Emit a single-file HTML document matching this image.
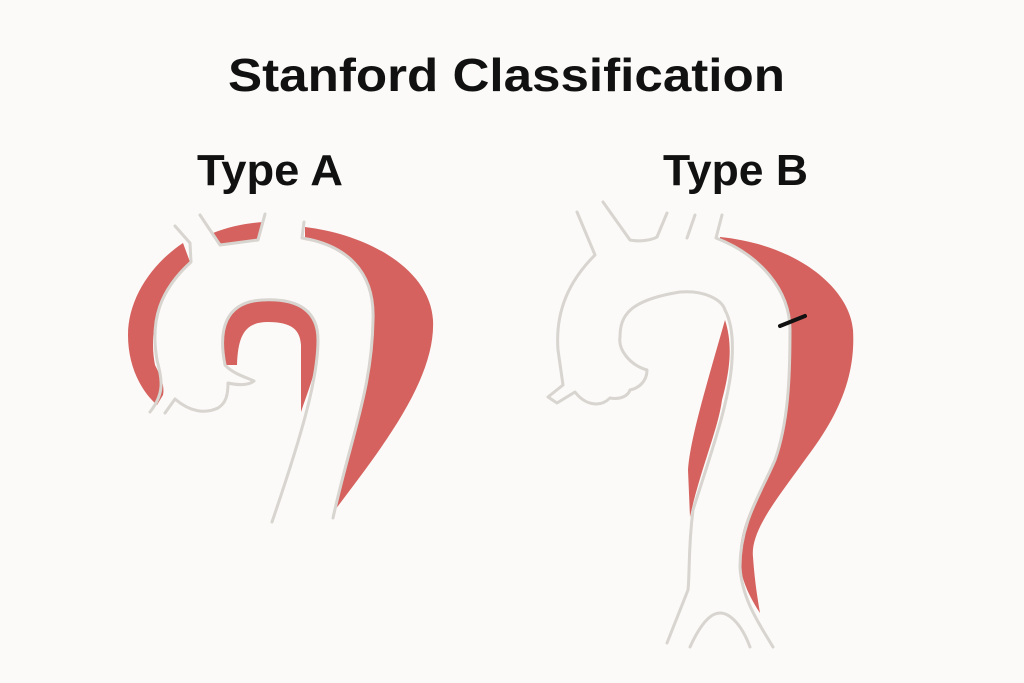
<!DOCTYPE html>
<html><head><meta charset="utf-8"><style>
html,body{margin:0;padding:0;background:#fbfaf8;}
svg{display:block;}
text{font-family:"Liberation Sans",sans-serif;font-weight:bold;fill:#111;}
</style></head><body>
<svg width="1024" height="683" viewBox="0 0 1024 683" xmlns="http://www.w3.org/2000/svg">
<rect width="1024" height="683" fill="#fbfaf8"/>
<text x="228" y="91" font-size="46" textLength="557" lengthAdjust="spacingAndGlyphs">Stanford Classification</text>
<text x="197" y="185" font-size="44" textLength="146" lengthAdjust="spacingAndGlyphs">Type A</text>
<text x="663" y="185" font-size="44" textLength="145" lengthAdjust="spacingAndGlyphs">Type B</text>

<g fill="#d5625e">
<!-- Type A -->
<path d="M183,243 C150,265 128,300 128,335 C128,365 140,390 157,405 L163,395 C165,385 160,375 155,365 C150,340 152,300 190,262 Z"/>
<path d="M213,233 C230,226 248,223 263,222 L258,240 C245,241 230,243 220,245 Z"/>
<path d="M305,227 C370,235 430,270 433,320 C436,380 380,450 335,510 C350,440 372,390 373,320 C375,270 340,245 305,240 Z"/>
<path d="M225,365 C218,330 225,302 262,300 C300,298 318,312 318,340 C318,370 308,390 301,412 L301,345 C300,330 292,322 268,322 C245,322 238,335 237,365 Z"/>
<!-- Type B -->
<path d="M720,237 C800,245 850,290 853,330 C856,380 835,420 807,457 C780,495 750,530 753,557 C755,585 758,600 760,613 C745,590 738,570 740,550 C742,520 760,490 775,460 C790,420 790,380 790,330 C790,290 760,255 720,240 Z"/>
<path d="M725,320 C705,390 690,440 688,470 L690,517 C700,470 718,430 722,400 C730,370 733,345 725,320 Z"/>
</g>

<g fill="none" stroke="#d8d4cf" stroke-width="3" stroke-linecap="round" stroke-linejoin="round">
<!-- Type A -->
<path d="M175,226 L190,243 L191,262 C160,290 150,320 157,360 C162,380 165,393 150,412"/>
<path d="M165,413 L175,399 C190,412 205,414 218,408 C226,403 228,395 228,383 C236,385 248,386 254,381 C248,378 233,374 225,365 C218,330 225,302 262,300 C300,298 318,312 318,340 C318,380 300,440 272,522"/>
<path d="M200,215 L220,245 L258,240 L265,214"/>
<path d="M304,222 L302,238 C345,245 375,270 373,320 C372,390 350,440 333,518"/>
<!-- Type B -->
<path d="M577,212 L595,255 C570,280 555,310 558,350 L563,385 L548,397 L557,403 L575,392 C585,405 600,408 610,398 C620,400 628,396 630,390 C640,388 647,380 647,370 C630,365 618,350 620,337 C620,315 630,300 680,292 C705,290 722,300 725,310 C733,325 733,345 732,360 C730,400 712,450 693,510 C688,550 690,570 688,590 L667,643"/>
<path d="M690,647 C700,625 710,613 720,613 C730,613 742,625 750,647"/>
<path d="M603,202 L630,240 C640,242 652,240 657,237 L667,213"/>
<path d="M695,215 L687,238"/>
<path d="M722,215 L716,238 C760,255 790,290 790,330 C790,380 788,423 775,460 C760,495 740,523 740,567 C742,600 760,625 773,647"/>
</g>
<path d="M780,326 L805,316" stroke="#111" stroke-width="4" stroke-linecap="round"/>
</svg>
</body></html>
